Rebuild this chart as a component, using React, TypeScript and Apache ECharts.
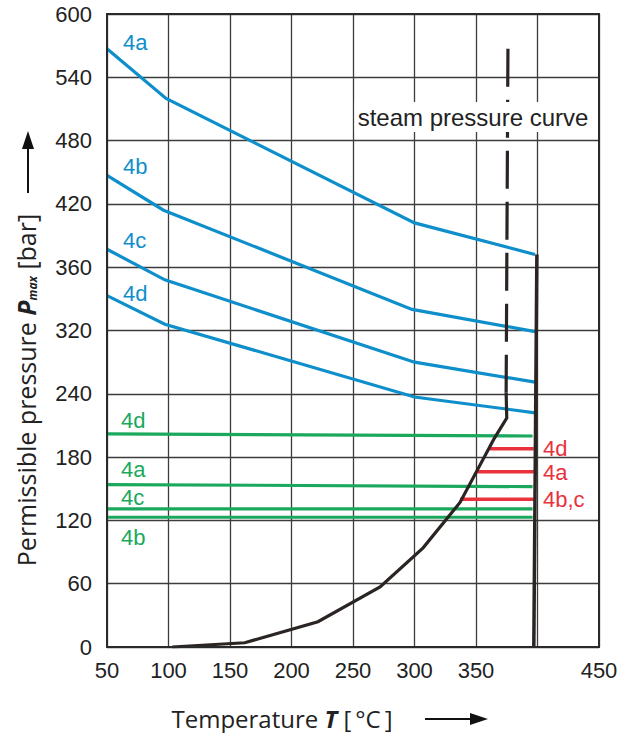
import React, { useEffect, useRef } from "react";
import * as echarts from "echarts";

// ---- data ----
const xTickLabels = ["50", "100", "150", "200", "250", "300", "350", "", "450"];
const yTickLabels = ["0", "60", "120", "180", "240", "320", "360", "420", "480", "540", "600"];

const blue4a = [[50, 567], [98, 520], [300, 402], [398, 372]];
const blue4b = [[50, 447], [96, 414], [298, 320], [398, 299]];
const blue4c = [[50, 377], [97, 348], [300, 270], [398, 251]];
const blue4d = [[50, 333], [97, 306], [300, 237], [398, 222]];

const green4d = [[50, 202], [396, 200]];
const green4a = [[50, 154], [396, 152]];
const green4c = [[50, 131], [396, 131]];
const green4b = [[50, 123], [396, 123]];

const red4d = [[361, 188], [397, 188]];
const red4a = [[351, 166], [397, 166]];
const red4bc = [[337, 140], [397, 140]];

const steamCurve = [
  [103, 0], [162, 4], [221.5, 24], [272, 57], [307, 94], [337, 137], [365, 198], [375, 217], [374.5, 241],
];
const steamDashed = [[374.5, 241], [376, 574]];
const rightLimit = [[399.5, 372], [397, 0]];

const BLUE = "#0e8fcb";
const GREEN = "#1aa85c";
const RED = "#e8323c";
const BLACK = "#2a2422";

const FONT = "Liberation Sans, Arial, sans-serif";
const TITLE_FONT = "Open Sans, sans-serif";

function lineSeries(data: number[][], color: string, width = 3.2, type: any = "solid", z = 3) {
  return {
    type: "line",
    data,
    symbol: "none",
    z,
    lineStyle: { color, width, type, cap: "butt", join: "miter" },
    silent: true,
  };
}

function label(text: string, x: number, y: number, color: string, align = "left") {
  return {
    type: "text",
    x,
    y,
    z: 50,
    style: {
      text,
      fill: color,
      font: `22px ${FONT}`,
      textAlign: align,
      textVerticalAlign: "middle",
    },
  };
}

export default function App() {
  const ref = useRef<HTMLDivElement>(null);
  useEffect(() => {
    if (!ref.current) return;
    const chart = echarts.init(ref.current, null, { renderer: "svg" });
    const option: any = {
      animation: false,
      backgroundColor: "#fff",
      grid: {
        left: 107,
        top: 14,
        width: 492,
        height: 633,
        show: true,
        borderColor: "#2a2a2a",
        borderWidth: 2,
        backgroundColor: "transparent",
        z: 10,
      },
      xAxis: {
        type: "value",
        min: 50,
        max: 450,
        interval: 50,
        axisLine: { show: false },
        axisTick: { show: false },
        splitLine: { show: true, lineStyle: { color: "#3c3c3c", width: 1.3 } },
        axisLabel: {
          margin: 12,
          color: "#222",
          fontSize: 22,
          fontFamily: FONT,
          formatter: (v: number) => xTickLabels[Math.round((v - 50) / 50)] ?? "",
        },
      },
      yAxis: {
        type: "value",
        min: 0,
        max: 600,
        interval: 60,
        axisLine: { show: false },
        axisTick: { show: false },
        splitLine: { show: true, lineStyle: { color: "#3c3c3c", width: 1.3 } },
        axisLabel: {
          margin: 15,
          color: "#222",
          fontSize: 22,
          fontFamily: FONT,
          formatter: (v: number) => yTickLabels[Math.round(v / 60)] ?? "",
        },
      },
      series: [
        lineSeries(blue4a, BLUE),
        lineSeries(blue4b, BLUE),
        lineSeries(blue4c, BLUE),
        lineSeries(blue4d, BLUE),
        lineSeries(green4d, GREEN),
        lineSeries(green4a, GREEN),
        lineSeries(green4c, GREEN),
        lineSeries(green4b, GREEN),
        lineSeries(red4d, RED, 3.5),
        lineSeries(red4a, RED, 3.5),
        lineSeries(red4bc, RED, 3.5),
        lineSeries(steamCurve, BLACK, 3.2, "solid", 4),
        lineSeries(steamDashed, BLACK, 3.2, [38, 13], 4),
        lineSeries(rightLimit, BLACK, 3.5, "solid", 5),
      ],
      graphic: [
        label("4a", 123, 42, BLUE),
        label("4b", 123, 166, BLUE),
        label("4c", 123, 240, BLUE),
        label("4d", 123, 293, BLUE),
        label("4d", 121, 420, GREEN),
        label("4a", 121, 469, GREEN),
        label("4c", 121, 497, GREEN),
        label("4b", 121, 537, GREEN),
        label("4d", 543, 448, RED),
        label("4a", 543, 472, RED),
        label("4b,c", 543, 499, RED),
        {
          type: "text",
          x: 473,
          y: 117,
          z: 60,
          style: {
            text: "steam pressure curve",
            fill: "#222",
            font: `24px ${FONT}`,
            textAlign: "center",
            textVerticalAlign: "middle",
            backgroundColor: "#fff",
            padding: [3, 3, 3, 3],
          },
        },
        // y-axis title
        {
          type: "text",
          x: 26,
          y: 390,
          rotation: Math.PI / 2,
          z: 60,
          style: {
            text: "{n|Permissible pressure }{b|P}{s|max}{n| [bar]}",
            textAlign: "center",
            textVerticalAlign: "middle",
            fill: "#222",
            rich: {
              n: { fontSize: 25, fontFamily: TITLE_FONT, fill: "#222" },
              b: { fontSize: 25, fontFamily: TITLE_FONT, fontWeight: "bold", fontStyle: "italic", fill: "#222" },
              s: {
                fontSize: 12,
                fontFamily: TITLE_FONT,
                fontWeight: "bold",
                fontStyle: "italic",
                fill: "#222",
                verticalAlign: "bottom",
                padding: [10, 0, 0, 0],
              },
            },
          },
        },
        {
          type: "line",
          z: 60,
          shape: { x1: 28, y1: 193, x2: 28, y2: 146 },
          style: { stroke: "#111", lineWidth: 2 },
        },
        {
          type: "polygon",
          z: 60,
          shape: { points: [[28, 131], [22, 149], [34, 149]] },
          style: { fill: "#111" },
        },
        // x-axis title
        {
          type: "text",
          x: 282,
          y: 718,
          z: 60,
          style: {
            text: "{n|Temperature }{b|T}{n| [\u2009°C\u2009]}",
            textAlign: "center",
            textVerticalAlign: "middle",
            fill: "#222",
            rich: {
              n: { fontSize: 24, fontFamily: TITLE_FONT, fill: "#222" },
              b: { fontSize: 24, fontFamily: TITLE_FONT, fontWeight: "bold", fontStyle: "italic", fill: "#222" },
            },
          },
        },
        {
          type: "line",
          z: 60,
          shape: { x1: 425, y1: 719, x2: 472, y2: 719 },
          style: { stroke: "#111", lineWidth: 2 },
        },
        {
          type: "polygon",
          z: 60,
          shape: { points: [[488, 719], [470, 713], [470, 725]] },
          style: { fill: "#111" },
        },
      ],
    };
    chart.setOption(option);
    return () => chart.dispose();
  }, []);
  return (
    <div
      ref={ref}
      style={{ position: "fixed", left: 0, top: 0, width: 635, height: 733, background: "#fff" }}
    />
  );
}
